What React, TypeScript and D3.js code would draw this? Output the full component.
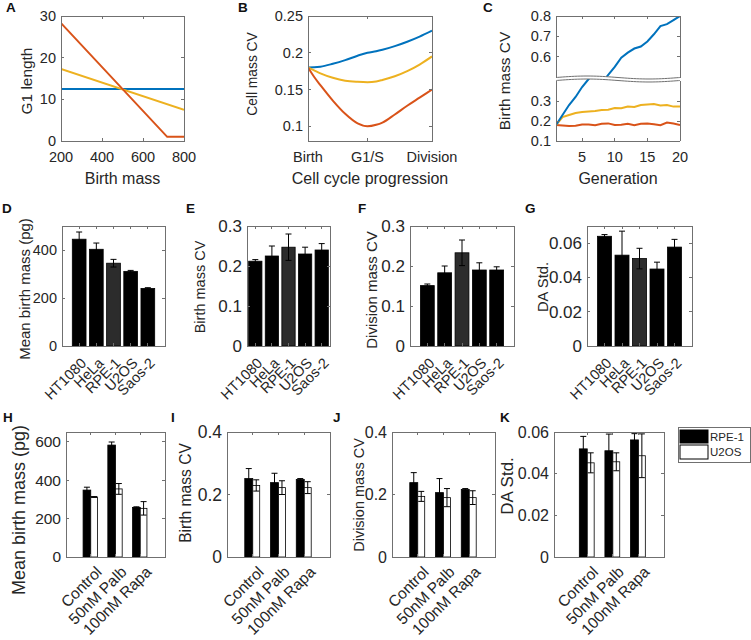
import React from 'react';
import * as d3 from 'd3';

const FONT = '"Liberation Sans", Arial, Helvetica, sans-serif';
const TEXT = '#262626';
const AXIS = '#707070';
const BLUE = '#0072BD';
const RED = '#D95319';
const YELLOW = '#EDB120';

// ---------- Panel A ----------
const aBirthMass = [200, 800];
const aBlueG1 = [12.5, 12.5];
const aYellowG1 = [17.3, 7.5];
const aRedMass = [200, 718, 800];
const aRedG1 = [28.3, 1, 1];
const aXTicks = [200, 400, 600, 800];
const aYTicks = [0, 10, 20, 30];

// ---------- Panel B ----------
const bProgress = [0, 0.05, 0.1, 0.2, 0.3, 0.4, 0.48, 0.55, 0.6, 0.7, 0.8, 0.9, 1];
const bBlueCV = [0.18, 0.1802, 0.181, 0.185, 0.19, 0.196, 0.2, 0.202, 0.204, 0.209, 0.215, 0.222, 0.23];
const bYellowCV = [0.18, 0.176, 0.172, 0.166, 0.162, 0.1605, 0.16, 0.161, 0.163, 0.168, 0.175, 0.184, 0.195];
const bRedCV = [0.18, 0.167, 0.156, 0.135, 0.117, 0.104, 0.1, 0.102, 0.105, 0.116, 0.128, 0.139, 0.15];
const bXTickPos = [0, 0.48, 1];
const bXTickLabels = ['Birth', 'G1/S', 'Division'];
const bYTicks = [0.1, 0.15, 0.2, 0.25];

// ---------- Panel C ----------
const cGeneration = [1, 2, 3, 4, 5, 6, 7, 8, 9, 10, 11, 12, 13, 14, 15, 16, 17, 18, 19, 20];
const cBlueCV = [0.18, 0.23, 0.28, 0.32, 0.37, 0.41, 0.44, 0.47, 0.51, 0.55, 0.595, 0.62, 0.64, 0.65, 0.675, 0.71, 0.75, 0.76, 0.78, 0.8];
const cYellowCV = [0.18, 0.22, 0.23, 0.24, 0.245, 0.248, 0.25, 0.255, 0.256, 0.265, 0.264, 0.272, 0.27, 0.28, 0.283, 0.285, 0.278, 0.28, 0.272, 0.272];
const cRedCV = [0.18, 0.178, 0.175, 0.176, 0.183, 0.183, 0.179, 0.186, 0.188, 0.18, 0.181, 0.186, 0.179, 0.186, 0.187, 0.184, 0.179, 0.192, 0.187, 0.18];
const cXTicks = [5, 10, 15, 20];
const cUpperTicks = [0.6, 0.7, 0.8];
const cLowerTicks = [0.1, 0.2, 0.3];

// ---------- Row 2 (D-G) ----------
const cellLines = ['HT1080', 'HeLa', 'RPE-1', 'U2OS', 'Saos-2'];
const dBirthMass = [445, 403, 345, 311, 240];
const dBirthMassErr = [30, 26, 16, 4, 3];
const eBirthCV = [0.212, 0.225, 0.247, 0.23, 0.24];
const eBirthCVErr = [0.004, 0.025, 0.033, 0.017, 0.016];
const fDivisionCV = [0.151, 0.183, 0.233, 0.19, 0.19];
const fDivisionCVErr = [0.004, 0.017, 0.032, 0.018, 0.008];
const gDAStd = [0.064, 0.053, 0.051, 0.0449, 0.0577];
const gDAStdErr = [0.001, 0.014, 0.006, 0.004, 0.0045];

// ---------- Row 3 (H-K) ----------
const treatments = ['Control', '50nM Palb', '100nM Rapa'];
const seriesNames = ['RPE-1', 'U2OS'];
const hRpeMass = [348, 582, 258];
const hRpeMassErr = [15, 16, 3];
const hU2osMass = [312, 354, 253];
const hU2osMassErr = [2, 28, 35];
const iRpeCV = [0.251, 0.238, 0.248];
const iRpeCVErr = [0.032, 0.03, 0.003];
const iU2osCV = [0.229, 0.222, 0.222];
const iU2osCVErr = [0.018, 0.022, 0.019];
const jRpeCV = [0.238, 0.206, 0.216];
const jRpeCVErr = [0.032, 0.045, 0.003];
const jU2osCV = [0.194, 0.19, 0.19];
const jU2osCVErr = [0.016, 0.029, 0.022];
const kRpeDA = [0.0519, 0.051, 0.0562];
const kRpeDAErr = [0.006, 0.008, 0.003];
const kU2osDA = [0.0452, 0.0457, 0.0486];
const kU2osDAErr = [0.0048, 0.0043, 0.0105];

type Box = { x0: number; x1: number; y0: number; y1: number };
type Scale = d3.ScaleLinear<number, number>;

function lineD(xv: number[], yv: number[], X: Scale, Y: Scale, curve = d3.curveLinear) {
  return d3.line<number>().curve(curve).x((_, i) => X(xv[i])).y((d) => Y(d))(yv) || '';
}

function Frame({ box }: { box: Box }) {
  return (
    <rect x={box.x0} y={box.y0} width={box.x1 - box.x0} height={box.y1 - box.y0}
      fill="none" stroke={AXIS} strokeWidth={1} shapeRendering="crispEdges" />
  );
}

function YAxis({ box, Y, ticks, fs = 14.5 }: { box: Box; Y: Scale; ticks: number[]; fs?: number }) {
  return (
    <g>
      {ticks.map((t) => {
        const yy = Y(t);
        return (
          <g key={t}>
            <line x1={box.x0} x2={box.x0 + 3} y1={yy} y2={yy} stroke={AXIS} shapeRendering="crispEdges" />
            <line x1={box.x1} x2={box.x1 - 3} y1={yy} y2={yy} stroke={AXIS} shapeRendering="crispEdges" />
            <text x={box.x0 - 5} y={yy} dy="0.35em" textAnchor="end" fontSize={fs} fill={TEXT}>{String(t)}</text>
          </g>
        );
      })}
    </g>
  );
}

function XAxis({ box, X, ticks, labels, rotated, fs = 14.5, rdx = 9, rdy = 18 }:
  { box: Box; X: Scale; ticks: number[]; labels: string[]; rotated?: boolean; fs?: number; rdx?: number; rdy?: number }) {
  return (
    <g>
      {ticks.map((t, i) => {
        const xx = X(t);
        return (
          <g key={i}>
            <line x1={xx} x2={xx} y1={box.y1} y2={box.y1 - 3} stroke={AXIS} shapeRendering="crispEdges" />
            <line x1={xx} x2={xx} y1={box.y0} y2={box.y0 + 3} stroke={AXIS} shapeRendering="crispEdges" />
            {rotated ? (
              <text transform={`translate(${xx + rdx},${box.y1 + rdy}) rotate(-45)`} textAnchor="end" fontSize={fs} fill={TEXT}>{labels[i]}</text>
            ) : (
              <text x={xx} y={box.y1 + 21} textAnchor="middle" fontSize={fs} fill={TEXT}>{labels[i]}</text>
            )}
          </g>
        );
      })}
    </g>
  );
}

function YLabel({ x, cy, text, fs = 15 }: { x: number; cy: number; text: string; fs?: number }) {
  return (
    <text transform={`translate(${x},${cy}) rotate(-90)`} dy="0.35em" textAnchor="middle" fontSize={fs} fill={TEXT}>{text}</text>
  );
}

function XLabel({ box, text }: { box: Box; text: string }) {
  return <text x={(box.x0 + box.x1) / 2} y={184} textAnchor="middle" fontSize={16} fill={TEXT}>{text}</text>;
}

function Letter({ x, y, t }: { x: number; y: number; t: string }) {
  return <text x={x} y={y} fontSize={13.5} fontWeight="bold" fill="#111">{t}</text>;
}

function ErrBar({ x, y0, y1, cap = 3 }: { x: number; y0: number; y1: number; cap?: number }) {
  return (
    <g stroke="#000" strokeWidth={1}>
      <line x1={x} x2={x} y1={y0} y2={y1} />
      <line x1={x - cap} x2={x + cap} y1={y0} y2={y0} />
      <line x1={x - cap} x2={x + cap} y1={y1} y2={y1} />
    </g>
  );
}

type LabelSpec = { x: number; cy: number; fs: number; text: string };

function BarPanel({ box, xDom, yDom, yTicks, vals, errs, lab, tickFs }:
  { box: Box; xDom: [number, number]; yDom: [number, number]; yTicks: number[]; vals: number[]; errs: number[]; lab: LabelSpec; tickFs: number }) {
  const X = d3.scaleLinear().domain(xDom).range([box.x0, box.x1]);
  const Y = d3.scaleLinear().domain(yDom).range([box.y1, box.y0]);
  const pos = cellLines.map((_, i) => i + 1);
  return (
    <g>
      {vals.map((v, i) => (
        <rect key={'b' + i} x={X(pos[i] - 0.4)} y={Y(v)} width={X(pos[i] + 0.4) - X(pos[i] - 0.4)} height={Y(0) - Y(v)}
          fill={cellLines[i] === 'RPE-1' ? '#2c2c2c' : '#000'} stroke="#000" strokeWidth={0.8} />
      ))}
      {vals.map((v, i) => (
        <ErrBar key={'e' + i} x={X(pos[i])} y0={Y(v + errs[i])} y1={Y(v - errs[i])} />
      ))}
      <Frame box={box} />
      <YAxis box={box} Y={Y} ticks={yTicks} fs={tickFs} />
      <XAxis box={box} X={X} ticks={pos} labels={cellLines} rotated fs={14.5} rdx={8} rdy={18} />
      <YLabel x={lab.x} cy={lab.cy} fs={lab.fs} text={lab.text} />
    </g>
  );
}

function GroupPanel({ box, xDom, yDom, yTicks, a, aErr, b, bErr, lab, tickFs }:
  { box: Box; xDom: [number, number]; yDom: [number, number]; yTicks: number[]; a: number[]; aErr: number[]; b: number[]; bErr: number[]; lab: LabelSpec; tickFs: number }) {
  const X = d3.scaleLinear().domain(xDom).range([box.x0, box.x1]);
  const Y = d3.scaleLinear().domain(yDom).range([box.y1, box.y0]);
  const pos = treatments.map((_, i) => i + 1);
  return (
    <g>
      {pos.map((g, i) => {
        const ax0 = X(g - 0.31), ax1 = X(g);
        const bx0 = X(g), bx1 = X(g + 0.27);
        return (
          <g key={i}>
            <rect x={ax0} y={Y(a[i])} width={ax1 - ax0} height={Y(0) - Y(a[i])} fill="#000" stroke="#000" strokeWidth={0.8} />
            <rect x={bx0} y={Y(b[i])} width={bx1 - bx0} height={Y(0) - Y(b[i])} fill="#fff" stroke="#000" strokeWidth={0.8} />
            <ErrBar x={(ax0 + ax1) / 2} y0={Y(a[i] + aErr[i])} y1={Y(a[i] - aErr[i])} />
            <ErrBar x={(bx0 + bx1) / 2} y0={Y(b[i] + bErr[i])} y1={Y(b[i] - bErr[i])} />
          </g>
        );
      })}
      <Frame box={box} />
      <YAxis box={box} Y={Y} ticks={yTicks} fs={tickFs} />
      <XAxis box={box} X={X} ticks={pos} labels={treatments} rotated fs={15.5} rdx={12} rdy={16} />
      <YLabel x={lab.x} cy={lab.cy} fs={lab.fs} text={lab.text} />
    </g>
  );
}

export default function App() {
  // Panel A
  const aBox: Box = { x0: 61, x1: 184, y0: 16, y1: 141 };
  const aX = d3.scaleLinear().domain([200, 800]).range([aBox.x0, aBox.x1]);
  const aY = d3.scaleLinear().domain([0, 30]).range([aBox.y1, aBox.y0]);

  // Panel B
  const bBox: Box = { x0: 308, x1: 432, y0: 16, y1: 141 };
  const bX = d3.scaleLinear().domain([0, 1]).range([bBox.x0, bBox.x1]);
  const bY = d3.scaleLinear().domain([0.08, 0.25]).range([bBox.y1, bBox.y0]);

  // Panel C (broken axis)
  const cUp: Box = { x0: 556, x1: 680, y0: 16, y1: 77 };
  const cLo: Box = { x0: 556, x1: 680, y0: 81, y1: 141 };
  const cX = d3.scaleLinear().domain([1, 20]).range([cUp.x0, cUp.x1]);
  const cYU = d3.scaleLinear().domain([0.5, 0.8]).range([cUp.y1, cUp.y0]);
  const cYL = d3.scaleLinear().domain([0.1, 0.4]).range([cLo.y1, cLo.y0]);
  const wave = (base: number) => {
    const pts: [number, number][] = [];
    for (let k = 0; k <= 40; k++) {
      const t = k / 40;
      pts.push([cUp.x0 + t * (cUp.x1 - cUp.x0), base - 1.5 * Math.sin(2 * Math.PI * t)]);
    }
    return pts;
  };
  const waveTop = wave(77.5);
  const waveBot = wave(80.5);
  const waveLine = d3.line<[number, number]>().curve(d3.curveBasis);
  const waveFill = 'M' + waveTop.map((p) => p.join(',')).join('L') + 'L' + waveBot.slice().reverse().map((p) => p.join(',')).join('L') + 'Z';

  const cSeries: [number[], string][] = [[cRedCV, RED], [cYellowCV, YELLOW], [cBlueCV, BLUE]];

  return (
    <svg width={751} height={640} style={{ position: 'absolute', left: 0, top: 0, background: '#fff' }} fontFamily={FONT}>
      <defs>
        <clipPath id="clipA"><rect x={aBox.x0} y={aBox.y0} width={aBox.x1 - aBox.x0} height={aBox.y1 - aBox.y0} /></clipPath>
        <clipPath id="clipB"><rect x={bBox.x0} y={bBox.y0} width={bBox.x1 - bBox.x0} height={bBox.y1 - bBox.y0} /></clipPath>
        <clipPath id="clipCU"><rect x={cUp.x0} y={cUp.y0} width={cUp.x1 - cUp.x0} height={cUp.y1 - cUp.y0 + 3} /></clipPath>
        <clipPath id="clipCL"><rect x={cLo.x0} y={cLo.y0 - 3} width={cLo.x1 - cLo.x0} height={cLo.y1 - cLo.y0 + 3} /></clipPath>
      </defs>
      <rect width={751} height={640} fill="#fff" />

      {/* Panel A */}
      <g clipPath="url(#clipA)" fill="none" strokeWidth={2}>
        <path d={lineD(aBirthMass, aBlueG1, aX, aY)} stroke={BLUE} />
        <path d={lineD(aBirthMass, aYellowG1, aX, aY)} stroke={YELLOW} />
        <path d={lineD(aRedMass, aRedG1, aX, aY)} stroke={RED} />
      </g>
      <Frame box={aBox} />
      <YAxis box={aBox} Y={aY} ticks={aYTicks} />
      <XAxis box={aBox} X={aX} ticks={aXTicks} labels={aXTicks.map(String)} />
      <YLabel x={27} cy={81} fs={15.4} text="G1 length" />
      <XLabel box={aBox} text="Birth mass" />
      <Letter x={6} y={12} t="A" />

      {/* Panel B */}
      <g clipPath="url(#clipB)" fill="none" strokeWidth={2}>
        <path d={lineD(bProgress, bBlueCV, bX, bY, d3.curveMonotoneX)} stroke={BLUE} />
        <path d={lineD(bProgress, bYellowCV, bX, bY, d3.curveMonotoneX)} stroke={YELLOW} />
        <path d={lineD(bProgress, bRedCV, bX, bY, d3.curveMonotoneX)} stroke={RED} />
      </g>
      <Frame box={bBox} />
      <YAxis box={bBox} Y={bY} ticks={bYTicks} />
      <XAxis box={bBox} X={bX} ticks={bXTickPos} labels={bXTickLabels} />
      <YLabel x={252} cy={74} fs={13.8} text="Cell mass CV" />
      <XLabel box={bBox} text="Cell cycle progression" />
      <Letter x={238} y={12} t="B" />

      {/* Panel C */}
      <g fill="none" strokeWidth={2}>
        <g clipPath="url(#clipCU)">
          {cSeries.map(([s, col], i) => <path key={i} d={lineD(cGeneration, s, cX, cYU)} stroke={col} />)}
        </g>
        <g clipPath="url(#clipCL)">
          {cSeries.map(([s, col], i) => <path key={i} d={lineD(cGeneration, s, cX, cYL)} stroke={col} />)}
        </g>
      </g>
      <path d={waveFill} fill="#fff" stroke="none" />
      <path d={waveLine(waveTop) || ''} fill="none" stroke={AXIS} strokeWidth={1} />
      <path d={waveLine(waveBot) || ''} fill="none" stroke={AXIS} strokeWidth={1} />
      <g stroke={AXIS} strokeWidth={1} shapeRendering="crispEdges">
        <line x1={cUp.x0} x2={cUp.x1} y1={cUp.y0} y2={cUp.y0} />
        <line x1={cUp.x0} x2={cUp.x0} y1={cUp.y0} y2={77.5} />
        <line x1={cUp.x1} x2={cUp.x1} y1={cUp.y0} y2={77.5} />
        <line x1={cLo.x0} x2={cLo.x1} y1={cLo.y1} y2={cLo.y1} />
        <line x1={cLo.x0} x2={cLo.x0} y1={80.5} y2={cLo.y1} />
        <line x1={cLo.x1} x2={cLo.x1} y1={80.5} y2={cLo.y1} />
      </g>
      <YAxis box={cUp} Y={cYU} ticks={cUpperTicks} />
      <YAxis box={cLo} Y={cYL} ticks={cLowerTicks} />
      <XAxis box={{ x0: cLo.x0, x1: cLo.x1, y0: cUp.y0, y1: cLo.y1 }} X={cX} ticks={cXTicks} labels={cXTicks.map(String)} />
      <YLabel x={505} cy={81} fs={15.4} text="Birth mass CV" />
      <XLabel box={cUp} text="Generation" />
      <Letter x={483} y={12} t="C" />

      {/* Row 2 */}
      <BarPanel box={{ x0: 62, x1: 165, y0: 226, y1: 346 }} xDom={[0, 6]} yDom={[0, 500]} yTicks={[0, 200, 400]} tickFs={14.5}
        vals={dBirthMass} errs={dBirthMassErr} lab={{ x: 25, cy: 289, fs: 15, text: 'Mean birth mass (pg)' }} />
      <Letter x={2} y={213} t="D" />
      <BarPanel box={{ x0: 247, x1: 330, y0: 226, y1: 346 }} xDom={[0.5, 5.5]} yDom={[0, 0.3]} yTicks={[0, 0.1, 0.2, 0.3]} tickFs={17}
        vals={eBirthCV} errs={eBirthCVErr} lab={{ x: 200, cy: 287, fs: 14.5, text: 'Birth mass CV' }} />
      <Letter x={186} y={213} t="E" />
      <BarPanel box={{ x0: 410, x1: 514, y0: 226, y1: 346 }} xDom={[0, 6]} yDom={[0, 0.3]} yTicks={[0, 0.1, 0.2, 0.3]} tickFs={17}
        vals={fDivisionCV} errs={fDivisionCVErr} lab={{ x: 372, cy: 290, fs: 15, text: 'Division mass CV' }} />
      <Letter x={358} y={213} t="F" />
      <BarPanel box={{ x0: 587, x1: 692, y0: 226, y1: 346 }} xDom={[0, 6]} yDom={[0, 0.07]} yTicks={[0, 0.02, 0.04, 0.06]} tickFs={17}
        vals={gDAStd} errs={gDAStdErr} lab={{ x: 543, cy: 287, fs: 14.8, text: 'DA Std.' }} />
      <Letter x={525} y={213} t="G" />

      {/* Row 3 */}
      <GroupPanel box={{ x0: 66, x1: 165, y0: 432, y1: 557 }} xDom={[0, 4]} yDom={[0, 650]} yTicks={[0, 200, 400, 600]} tickFs={15.5}
        a={hRpeMass} aErr={hRpeMassErr} b={hU2osMass} bErr={hU2osMassErr} lab={{ x: 19, cy: 510, fs: 18, text: 'Mean birth mass (pg)' }} />
      <Letter x={3} y={422} t="H" />
      <GroupPanel box={{ x0: 227, x1: 330, y0: 432, y1: 557 }} xDom={[0, 4]} yDom={[0, 0.4]} yTicks={[0, 0.2, 0.4]} tickFs={17.5}
        a={iRpeCV} aErr={iRpeCVErr} b={iU2osCV} bErr={iU2osCVErr} lab={{ x: 186, cy: 493, fs: 15.6, text: 'Birth mass CV' }} />
      <Letter x={171} y={422} t="I" />
      <GroupPanel box={{ x0: 392, x1: 495, y0: 432, y1: 557 }} xDom={[0, 4]} yDom={[0, 0.4]} yTicks={[0, 0.2, 0.4]} tickFs={16}
        a={jRpeCV} aErr={jRpeCVErr} b={jU2osCV} bErr={jU2osCVErr} lab={{ x: 359, cy: 495, fs: 14.5, text: 'Division mass CV' }} />
      <Letter x={333} y={422} t="J" />
      <GroupPanel box={{ x0: 554, x1: 664, y0: 432, y1: 557 }} xDom={[-0.3, 4]} yDom={[0, 0.06]} yTicks={[0, 0.02, 0.04, 0.06]} tickFs={16}
        a={kRpeDA} aErr={kRpeDAErr} b={kU2osDA} bErr={kU2osDAErr} lab={{ x: 507, cy: 486, fs: 17, text: 'DA Std.' }} />
      <Letter x={500} y={422} t="K" />

      {/* Legend */}
      <g>
        <rect x={678} y={427} width={72} height={35} fill="#fff" stroke={AXIS} shapeRendering="crispEdges" />
        <rect x={680} y={430} width={28} height={13} fill="#000" stroke="#000" />
        <rect x={680} y={445} width={28} height={14} fill="#fff" stroke="#000" />
        <text x={710} y={441} fontSize={11.5} fill={TEXT}>{seriesNames[0]}</text>
        <text x={710} y={456} fontSize={11.5} fill={TEXT}>{seriesNames[1]}</text>
      </g>
    </svg>
  );
}
